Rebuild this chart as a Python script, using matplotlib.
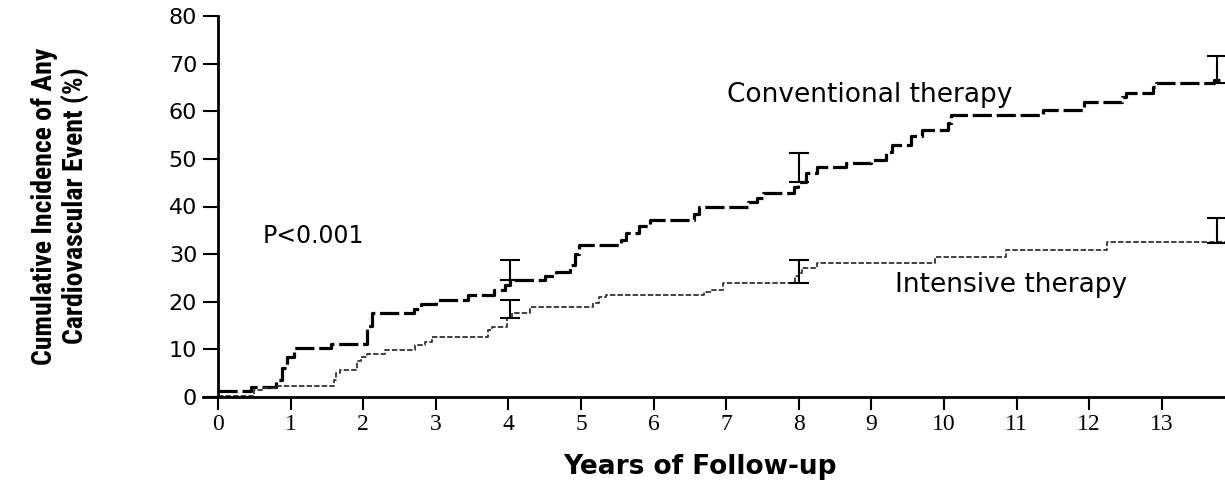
import numpy as np
import matplotlib
matplotlib.use("Agg")
import matplotlib.pyplot as plt
from matplotlib import font_manager

# Step curves (years, cumulative incidence %)
conv_t = [0, 0.45, 0.8, 0.88, 0.95, 1.05, 1.55, 2.05, 2.12, 2.7, 2.8, 3.0,
          3.45, 3.8, 3.95, 4.02, 4.5, 4.65, 4.85, 4.92, 4.97, 5.55, 5.62,
          5.8, 5.95, 6.55, 6.62, 7.3, 7.42, 7.5, 7.93, 7.99, 8.1, 8.25,
          8.65, 9.0, 9.2, 9.28, 9.55, 9.7, 10.05, 10.1, 11.36, 11.93,
          12.45, 12.5, 12.88, 12.92, 13.72, 13.9]
conv_y = [1.3, 2.1, 3.5, 6.0, 8.4, 10.3, 11.1, 15.0, 17.6, 18.5, 19.5, 20.4,
          21.4, 22.5, 23.5, 24.6, 25.5, 26.3, 27.7, 30.0, 31.9, 33.0, 34.5,
          36.0, 37.2, 38.5, 40.0, 41.0, 41.8, 42.9, 44.0, 45.2, 47.0, 48.3,
          49.1, 49.8, 51.5, 53.0, 54.7, 56.1, 57.5, 59.2, 60.3, 62.0,
          63.0, 63.8, 65.0, 66.0, 66.5, 66.5]

int_t = [0, 0.5, 0.6, 0.8, 1.6, 1.63, 1.68, 1.92, 1.97, 2.05, 2.3, 2.72,
         2.85, 2.95, 3.72, 3.78, 3.98, 4.05, 4.3, 5.17, 5.25, 5.35, 6.7,
         6.8, 6.95, 7.95, 8.0, 8.05, 8.25, 9.88, 10.86, 12.25, 13.9]
int_y = [0.3, 1.5, 1.8, 2.3, 3.5, 5.0, 5.7, 7.5, 8.4, 9.0, 9.9, 11.0,
         11.6, 12.6, 14.0, 14.7, 16.6, 17.6, 18.9, 19.8, 21.0, 21.4, 22.0,
         22.5, 24.0, 25.5, 26.0, 27.1, 28.1, 29.4, 30.9, 32.6, 32.6]

# Upper confidence bars
bar_t = [4.02, 8.0, 13.76]
conv_lo = [24.6, 45.2, 66.0]
conv_hi = [28.8, 51.3, 71.6]
int_lo = [16.6, 24.0, 32.4]
int_hi = [20.4, 28.8, 37.6]

yticks = np.arange(0, 81, 10)
xticks = np.arange(0, 14, 1)

# narrow face for the y label, if one is installed
names = {f.name for f in font_manager.fontManager.ttflist}
narrow = [n for n in ["Roboto Condensed", "Liberation Sans Narrow",
                      "DejaVu Sans Condensed"] if n in names]

fig = plt.figure(figsize=(12.25, 4.84), dpi=100)
ax = fig.add_axes([218 / 1225, 1 - 397 / 484, 1 - 218 / 1225, 381 / 484])

ax.plot(conv_t, conv_y, drawstyle="steps-post", color="black", lw=2.3,
        linestyle=(0, (6, 1.5)))
ax.plot(int_t, int_y, drawstyle="steps-post", color="#333333", lw=1.3,
        linestyle=(0, (3, 1.2)))

for lo, hi in [(conv_lo, conv_hi), (int_lo, int_hi)]:
    lo = np.array(lo)
    hi = np.array(hi)
    ax.errorbar(bar_t, lo, yerr=[np.zeros_like(lo), hi - lo], fmt="none",
                ecolor="black", elinewidth=1.5, capsize=7, capthick=1.5)

ax.text(8.97, 63.4, "Conventional therapy", fontsize=19, ha="center",
        va="center")
ax.text(10.93, 23.5, "Intensive therapy", fontsize=19, ha="center",
        va="center")
ax.text(1.31, 33.8, "P<0.001", fontsize=17, ha="center", va="center")

ax.set_xlim(0, (1225 - 218) / 72.6)
ax.set_ylim(0, 80)
ax.set_yticks(yticks)
ax.set_xticks(xticks)
ax.set_yticklabels([str(v) for v in yticks], fontsize=16)
ax.set_xticklabels([str(v) for v in xticks], fontsize=17,
                   family="Liberation Serif")
ax.tick_params(axis="y", direction="out", length=11, width=1.5, pad=4)
ax.tick_params(axis="x", direction="out", length=9, width=1.5, pad=3)

for side in ["top", "right"]:
    ax.spines[side].set_visible(False)
for side in ["left", "bottom"]:
    ax.spines[side].set_linewidth(2)
ax.spines["bottom"].set_bounds(-0.2, 13.9)

fig.text(700 / 1225, 1 - 467 / 484, "Years of Follow-up",
         fontsize=19, fontweight="bold", ha="center", va="center")

ylab = "Cumulative Incidence of Any\nCardiovascular Event (%)"
if narrow:
    fig.text(60 / 1225, 1 - 206 / 484, ylab, fontsize=20,
             fontweight="bold", rotation=90, ha="center", va="center",
             multialignment="center", linespacing=1.15, family=narrow[0])
else:
    fig.text(60 / 1225, 1 - 206 / 484, ylab, fontsize=15,
             fontweight="bold", rotation=90, ha="center", va="center",
             multialignment="center", linespacing=1.1, family="Lato")

fig.savefig("out.png", dpi=100)
